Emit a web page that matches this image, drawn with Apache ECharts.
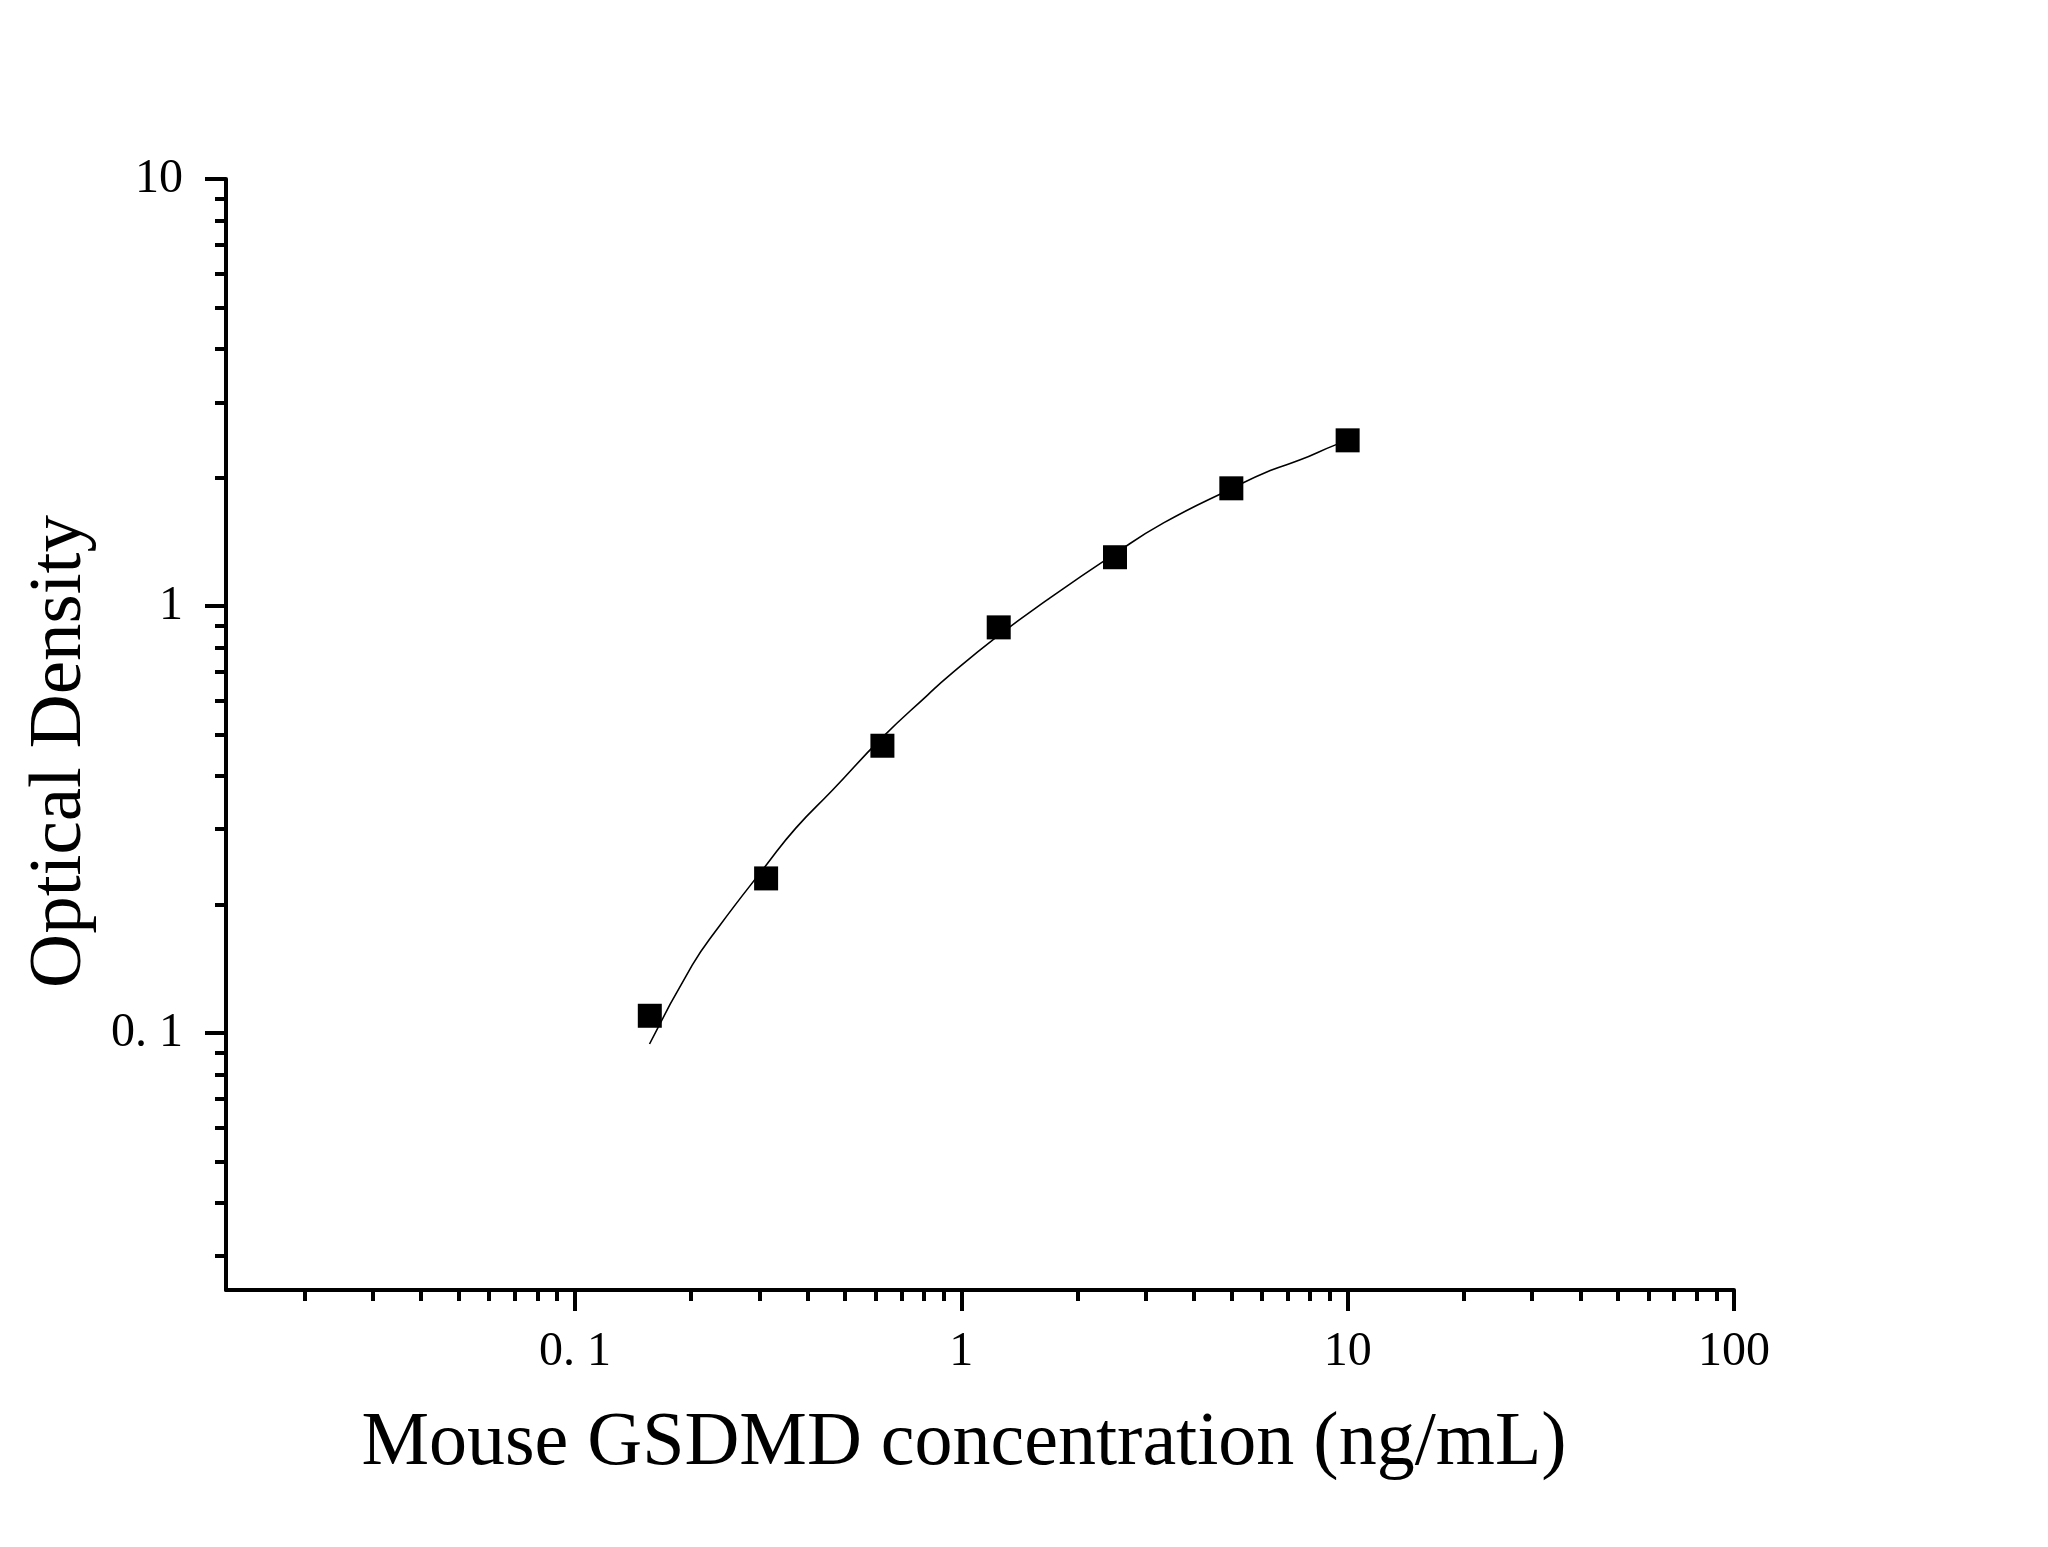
<!DOCTYPE html>
<html>
<head>
<meta charset="utf-8">
<script src="https://cdn.jsdelivr.net/npm/echarts@6/dist/echarts.min.js"></script>
<style>
  html, body { margin: 0; padding: 0; background: #fff; }
  #chart { width: 2048px; height: 1547px; }
</style>
</head>
<body>
<div id="chart"></div>
<script>
// 标准曲线 - 数据
const concX = [0.15625, 0.3125, 0.625, 1.25, 2.5, 5, 10];
const odY = [0.1097, 0.2301, 0.4706, 0.891, 1.3006, 1.886, 2.443];

// 拟合曲线上读取的点
const fitX = [0.156, 0.2012, 0.235, 0.3125, 0.373, 0.4645, 0.622, 0.818, 0.9255, 1.249,
  1.672, 2.493, 3.339, 4.984, 6.305, 7.54, 9.305, 10];
const fitY = [0.0942, 0.1441, 0.1766, 0.247, 0.3018, 0.3706, 0.4904, 0.6185, 0.684, 0.853,
  1.0346, 1.324, 1.565, 1.88, 2.075, 2.199, 2.384, 2.43];

// 刻度
const xMajor = [0.1, 1, 10, 100];
const xMinor = [0.02, 0.03, 0.04, 0.05, 0.06, 0.07, 0.08, 0.09,
  0.2, 0.3, 0.4, 0.5, 0.6, 0.7, 0.8, 0.9,
  2, 3, 4, 5, 6, 7, 8, 9,
  20, 30, 40, 50, 60, 70, 80, 90];
const yMajor = [0.1, 1, 10];
const yMinor = [0.03, 0.04, 0.05, 0.06, 0.07, 0.08, 0.09,
  0.2, 0.3, 0.4, 0.5, 0.6, 0.7, 0.8, 0.9,
  2, 3, 4, 5, 6, 7, 8, 9];

const FONT = '"Liberation Serif", "Times New Roman", serif';

const chart = echarts.init(document.getElementById('chart'));

// 刻度标签，0.1 写成 "0. 1"
function fmt(v) {
    if (Math.abs(v - 0.1) < 1e-6) return '0. 1';
    if (Math.abs(v - 1) < 1e-6) return '1';
    if (Math.abs(v - 10) < 1e-6) return '10';
    if (Math.abs(v - 100) < 1e-6) return '100';
    return '';
}

const lineStyle = { color: '#000', width: 4 };

function majorAxis(min, max, ticks, extra) {
    return Object.assign({
        type: 'log',
        logBase: 10,
        min: min,
        max: max,
        axisLine: { show: true, onZero: false, lineStyle: lineStyle },
        axisTick: { show: true, inside: false, length: 21, lineStyle: lineStyle, customValues: ticks },
        splitLine: { show: false },
        minorTick: { show: false },
        minorSplitLine: { show: false }
    }, extra);
}

// 次刻度用一条不画轴线的副轴
function minorAxis(min, max, ticks, position) {
    return {
        type: 'log',
        logBase: 10,
        min: min,
        max: max,
        position: position,
        axisLine: { show: false },
        axisTick: { show: true, inside: false, length: 11, lineStyle: lineStyle, customValues: ticks },
        axisLabel: { show: false },
        splitLine: { show: false }
    };
}

const option = {
    backgroundColor: '#fff',
    animation: false,
    grid: { left: 226, right: 314, top: 179, bottom: 257, containLabel: false },
    xAxis: [
        majorAxis(0.0125, 100, xMajor, {
            position: 'bottom',
            name: 'Mouse GSDMD concentration (ng/mL)',
            nameLocation: 'middle',
            nameGap: 116,
            nameTextStyle: { color: '#000', fontFamily: FONT, fontSize: 76, padding: [0, 32, 0, 0] },
            axisLabel: {
                show: true, customValues: xMajor, formatter: fmt, color: '#000',
                fontFamily: FONT, fontSize: 48, margin: 38
            }
        }),
        minorAxis(0.0125, 100, xMinor, 'bottom')
    ],
    yAxis: [
        majorAxis(0.025, 10, yMajor, {
            position: 'left',
            name: 'Optical Density',
            nameLocation: 'middle',
            nameGap: 128,
            nameTextStyle: { color: '#000', fontFamily: FONT, fontSize: 75, padding: [0, 34, 0, 0] },
            axisLabel: {
                show: true, customValues: yMajor, formatter: fmt, color: '#000',
                fontFamily: FONT, fontSize: 48, margin: 43
            }
        }),
        minorAxis(0.025, 10, yMinor, 'left')
    ],
    series: [
        {
            type: 'line',
            xAxisIndex: 0,
            yAxisIndex: 0,
            data: fitX.map((x, i) => [x, fitY[i]]),
            smooth: 0.5,
            showSymbol: false,
            symbol: 'none',
            lineStyle: { color: '#000', width: 1.6 },
            z: 2
        },
        {
            type: 'scatter',
            xAxisIndex: 0,
            yAxisIndex: 0,
            data: concX.map((x, i) => [x, odY[i]]),
            symbol: 'rect',
            symbolSize: 24,
            itemStyle: { color: '#000', opacity: 1 },
            z: 3
        }
    ]
};

chart.setOption(option);
</script>
</body>
</html>
